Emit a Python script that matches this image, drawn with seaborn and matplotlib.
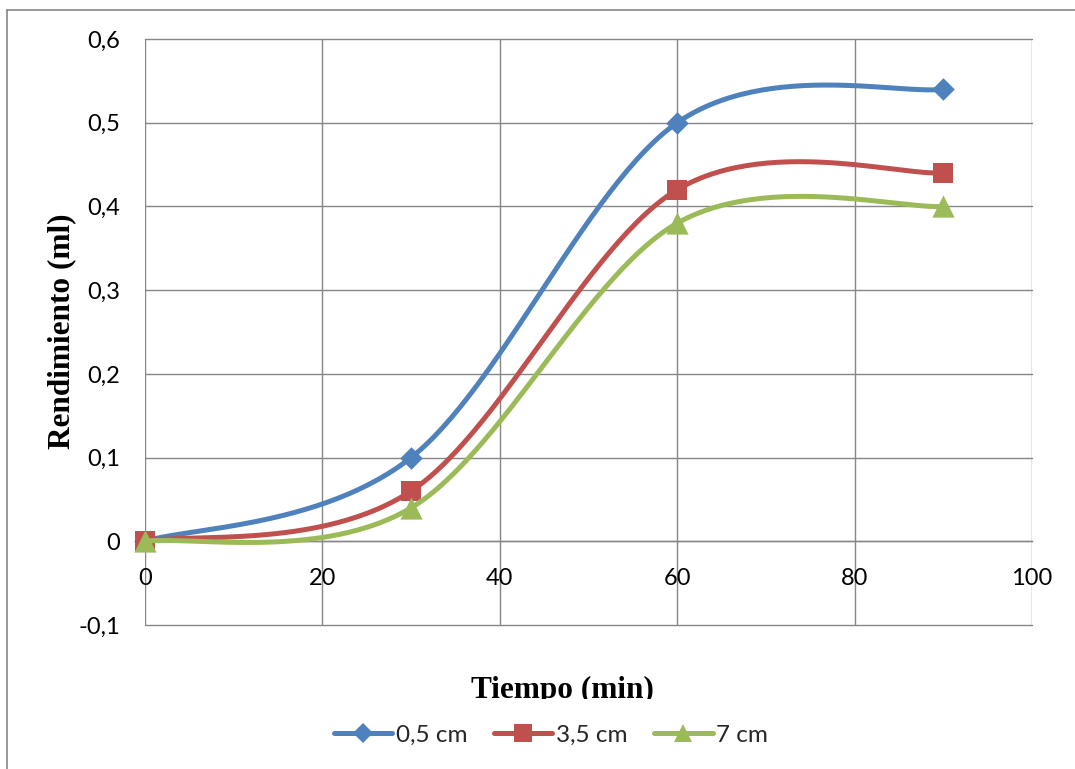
import numpy as np
import pandas as pd
import matplotlib
matplotlib.use("Agg")
import matplotlib.pyplot as plt
from matplotlib.lines import Line2D
from matplotlib.transforms import Bbox, TransformedBbox
import seaborn as sns

# ---- data ----
time_min = [0, 30, 60, 90]
serie_05 = [0.0, 0.10, 0.50, 0.54]
serie_35 = [0.0, 0.06, 0.42, 0.44]
serie_7 = [0.0, 0.04, 0.38, 0.40]
series_names = ["0,5 cm", "3,5 cm", "7 cm"]
x_ticks = [0, 20, 40, 60, 80, 100]
x_tick_labels = ["0", "20", "40", "60", "80", "100"]
y_ticks = [-0.1, 0.0, 0.1, 0.2, 0.3, 0.4, 0.5, 0.6]
y_tick_labels = ["-0,1", "0", "0,1", "0,2", "0,3", "0,4", "0,5", "0,6"]

colors = ["#4F81BD", "#C0504D", "#9BBB59"]
markers = ["D", "s", "^"]
msizes = [11.5, 14.5, 16]

sns.set_theme(style="white")
plt.rcParams["font.family"] = ["Lato", "DejaVu Sans"]


def smooth(xs, ys, n=60):
    """Excel-like smoothed line (Catmull-Rom Bezier) through the given points."""
    P = np.column_stack([xs, ys]).astype(float)
    out = []
    m = len(P)
    for i in range(m - 1):
        p0 = P[i - 1] if i > 0 else P[i]
        p1 = P[i]
        p2 = P[i + 1]
        p3 = P[i + 2] if i + 2 < m else P[i + 1]
        c1 = p1 + (p2 - p0) / 6.0
        c2 = p2 - (p3 - p1) / 6.0
        t = np.linspace(0, 1, n)[:, None]
        seg = ((1 - t) ** 3) * p1 + 3 * ((1 - t) ** 2) * t * c1 + 3 * (1 - t) * t ** 2 * c2 + t ** 3 * p2
        out.append(seg if i == 0 else seg[1:])
    seg = np.vstack(out)
    return seg[:, 0], seg[:, 1]


fig = plt.figure(figsize=(10.75, 7.69), dpi=100)
ax = fig.add_axes([145 / 1075, 1 - 625 / 769, (1032 - 145) / 1075, (625 - 39) / 769])

grid_c = "#868686"
lw = 3.6
for k, (vals, name) in enumerate(zip([serie_05, serie_35, serie_7], series_names)):
    sx, sy = smooth(time_min, vals)
    df_line = pd.DataFrame({"x": sx, "y": sy})
    sns.lineplot(data=df_line, x="x", y="y", ax=ax, color=colors[k], lw=lw,
                 sort=False, estimator=None, zorder=3 + 2 * k, solid_capstyle="round")
    df_pts = pd.DataFrame({"x": time_min, "y": vals})
    sns.scatterplot(data=df_pts, x="x", y="y", ax=ax, color=colors[k], marker=markers[k],
                    s=msizes[k] ** 2, linewidth=0, zorder=4 + 2 * k, clip_on=False)

ax.set_xlim(0, 100)
ax.set_ylim(-0.1, 0.6)
ax.set_xticks(x_ticks)
ax.set_xticklabels(x_tick_labels)
ax.set_yticks(y_ticks)
ax.set_yticklabels(y_tick_labels)
ax.grid(True, color=grid_c, lw=1.0)
ax.set_axisbelow(True)
for gl in ax.get_xgridlines() + ax.get_ygridlines():
    gl.set_clip_on(False)
for s in ["top", "right", "left"]:
    ax.spines[s].set_visible(False)
ax.spines["bottom"].set_position(("data", 0))
ax.spines["bottom"].set_color(grid_c)
ax.spines["bottom"].set_linewidth(1.0)
ax.tick_params(axis="both", length=0, labelsize=17, colors="black")
ax.tick_params(axis="x", pad=19)
ax.tick_params(axis="y", pad=18)
ax.set_xlabel("")
ax.set_ylabel("")

# axis titles
fig.text(62 / 1075, 1 - 331 / 769, "Rendimiento (ml)", rotation=90, ha="center", va="center",
         family="Liberation Serif", weight="bold", fontsize=22.5, color="black")
xt = fig.text(562 / 1075, 1 - 698 / 769, "Tiempo (min)", ha="center", va="baseline",
              family="Liberation Serif", weight="bold", fontsize=22.5, color="black")
xt.set_clip_box(TransformedBbox(Bbox([[0, 1 - 699 / 769], [1, 1]]), fig.transFigure))
xt.set_clip_on(True)

# legend
handles = [Line2D([0], [0], color=colors[k], lw=lw, marker=markers[k], markersize=msizes[k] * 0.85,
                  markeredgewidth=0, solid_capstyle="round") for k in range(3)]
fig.legend(handles, series_names, loc="center", bbox_to_anchor=(551 / 1075, 1 - 735 / 769),
           ncol=3, frameon=False, fontsize=17.5, handlelength=2.4, handletextpad=0.15,
           columnspacing=1.1)

# outer chart border (left and top visible)
fig.add_artist(Line2D([7 / 1075, 7 / 1075], [0, 1 - 10 / 769], transform=fig.transFigure,
                      color=grid_c, lw=1.2))
fig.add_artist(Line2D([7 / 1075, 1], [1 - 10 / 769, 1 - 10 / 769], transform=fig.transFigure,
                      color=grid_c, lw=1.2))

fig.savefig("out.png", dpi=100)
